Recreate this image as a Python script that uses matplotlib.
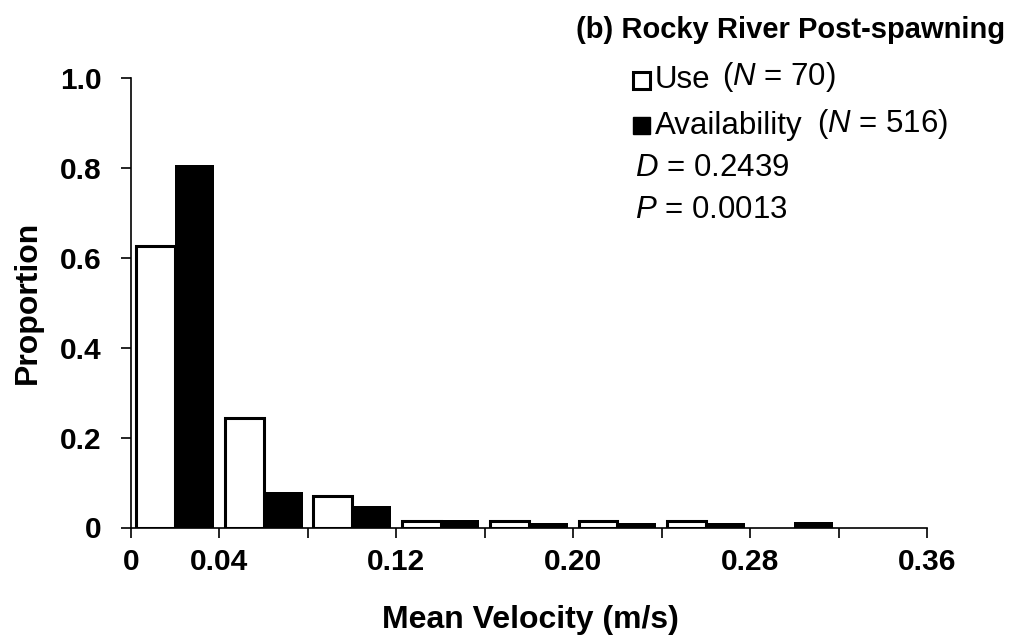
"""Use vs availability of mean velocity, Rocky River post-spawning."""

import matplotlib
matplotlib.use("Agg")
import matplotlib.pyplot as plt
from matplotlib.patches import Rectangle

plt.rcParams["font.family"] = ["Liberation Sans", "DejaVu Sans"]
plt.rcParams["mathtext.fontset"] = "custom"
plt.rcParams["mathtext.it"] = "Liberation Sans:italic"
plt.rcParams["mathtext.rm"] = "Liberation Sans"

# bins of mean velocity (m/s), 0.04 wide
bin_edges = [0.00, 0.04, 0.08, 0.12, 0.16, 0.20, 0.24, 0.28, 0.32, 0.36]
edge_labels = ["0", "0.04", "", "0.12", "", "0.20", "", "0.28", "", "0.36"]
use_prop = [0.627, 0.244, 0.070, 0.014, 0.014, 0.014, 0.014, 0.0, 0.0]
avail_prop = [0.807, 0.078, 0.047, 0.017, 0.009, 0.009, 0.009, 0.013, 0.0]
y_ticks = [0, 0.2, 0.4, 0.6, 0.8, 1.0]
y_labels = ["0", "0.2", "0.4", "0.6", "0.8", "1.0"]

W, H = 1014, 641


def fx(px):
    return px / W


def fy(py):
    return 1 - py / H


def main() -> None:
    fig = plt.figure(figsize=(W / 100, H / 100), dpi=100)
    ax = fig.add_axes([fx(131), fy(527.5), fx(927 - 131), (527.5 - 78) / H])

    bw = 0.04 * 0.44
    centers = [e + 0.02 for e in bin_edges[:-1]]
    use_lw = [2.2 if v > 0 else 0 for v in use_prop]
    ax.bar([c - bw for c in centers], use_prop, width=bw, align="edge",
           color="white", edgecolor="black", linewidth=use_lw, zorder=2)
    ax.bar(centers, avail_prop, width=bw, align="edge",
           color="black", edgecolor="black", linewidth=0, zorder=2)

    ax.set_xlim(bin_edges[0], bin_edges[-1])
    ax.set_ylim(0, 1.0)
    ax.set_xticks(bin_edges)
    ax.set_xticklabels(edge_labels, fontsize=21.5, fontweight="bold")
    ax.set_yticks(y_ticks)
    ax.set_yticklabels(y_labels, fontsize=21.5, fontweight="bold")
    ax.tick_params(axis="x", direction="out", length=7, width=1.2, pad=8)
    ax.tick_params(axis="y", direction="out", length=7, width=1.2, pad=14)
    for s in ("top", "right"):
        ax.spines[s].set_visible(False)
    for s in ("left", "bottom"):
        ax.spines[s].set_linewidth(1.2)

    fig.text(fx(530), fy(620), "Mean Velocity (m/s)", fontsize=23,
             fontweight="bold", ha="center", va="center")
    fig.text(fx(28), fy(302), "Proportion", fontsize=23, fontweight="bold",
             rotation=90, ha="center", va="center")
    fig.text(fx(1005), fy(30), "(b) Rocky River Post-spawning", fontsize=21,
             fontweight="bold", ha="right", va="center")

    # legend / statistics block
    fig.add_artist(Rectangle((fx(633), fy(89)), 17 / W, 17 / H,
                             transform=fig.transFigure, facecolor="white",
                             edgecolor="black", linewidth=2.2))
    fig.add_artist(Rectangle((fx(633), fy(134)), 17 / W, 17 / H,
                             transform=fig.transFigure, facecolor="black",
                             edgecolor="black", linewidth=1))
    fig.text(fx(655), fy(80), "Use", fontsize=22.5, ha="left", va="center")
    fig.text(fx(722), fy(77), "($\\mathit{N}$ = 70)", fontsize=22.5,
             ha="left", va="center")
    fig.text(fx(655), fy(126), "Availability", fontsize=22.5, ha="left",
             va="center")
    fig.text(fx(817), fy(124), "($\\mathit{N}$ = 516)", fontsize=22.5,
             ha="left", va="center")
    fig.text(fx(635), fy(168), "$\\mathit{D}$ = 0.2439", fontsize=22.5,
             ha="left", va="center")
    fig.text(fx(635), fy(210), "$\\mathit{P}$ = 0.0013", fontsize=22.5,
             ha="left", va="center")

    fig.savefig("out.png", dpi=100)
    plt.close(fig)


if __name__ == "__main__":
    main()
